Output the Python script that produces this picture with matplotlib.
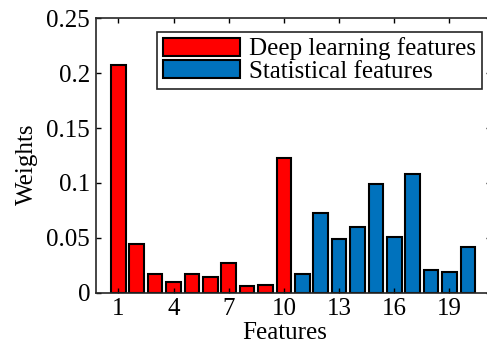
import numpy as np
import matplotlib
matplotlib.use("Agg")
import matplotlib.pyplot as plt

# Feature weights: first 10 are deep-learning features, last 10 statistical
deep_features = [1, 2, 3, 4, 5, 6, 7, 8, 9, 10]
deep_weights = [0.207, 0.044, 0.017, 0.0097, 0.017, 0.014, 0.027, 0.0064, 0.0073, 0.1227]
stat_features = [11, 12, 13, 14, 15, 16, 17, 18, 19, 20]
stat_weights = [0.0167, 0.0724, 0.049, 0.0597, 0.0988, 0.0503, 0.108, 0.0203, 0.0188, 0.0418]
xtick_values = [1, 4, 7, 10, 13, 16, 19]
ytick_values = [0, 0.05, 0.1, 0.15, 0.2, 0.25]
ytick_labels = ["0", "0.05", "0.1", "0.15", "0.2", "0.25"]

plt.rcParams["font.family"] = ["Liberation Serif", "DejaVu Serif"]
FS = 18

W, H = 487, 350
fig = plt.figure(figsize=(W / 100, H / 100), dpi=100)
ax = fig.add_axes([95.7 / W, 1 - 292.7 / H, (490.5 - 95.7) / W, (292.7 - 18.3) / H])

ax.bar(deep_features, deep_weights, width=0.8, color="#FF0000",
       edgecolor="black", linewidth=1.5, label="Deep learning features")
ax.bar(stat_features, stat_weights, width=0.8, color="#0072BD",
       edgecolor="black", linewidth=1.5, label="Statistical features")

ax.set_xlim(-0.23, 21.23)
ax.set_ylim(0, 0.25)
ax.set_xticks(xtick_values)
ax.set_xticklabels([str(v) for v in xtick_values])
ax.set_yticks(ytick_values)
ax.set_yticklabels(ytick_labels)
ax.tick_params(direction="in", length=3.5, width=1.0, top=True, right=True,
               labelsize=FS, colors="black", pad=4)
for s in ax.spines.values():
    s.set_linewidth(1.2)
    s.set_color("#262626")

ax.set_xlabel("Features", fontsize=FS)
ax.set_ylabel("Weights", fontsize=FS)
ax.xaxis.set_label_coords(0.479, -0.107)
ax.yaxis.set_label_coords(-0.145, 0.467)

leg = ax.legend(loc="upper right", bbox_to_anchor=(481.7 / W, 1 - 32 / H),
                bbox_transform=fig.transFigure, borderaxespad=0,
                fontsize=FS, frameon=True, fancybox=False, framealpha=1,
                handlelength=3.1, handleheight=0.72, handletextpad=0.35,
                labelspacing=0.0, borderpad=0.22)
leg.get_frame().set_edgecolor("#262626")
leg.get_frame().set_linewidth(1.2)

fig.savefig("out.png", dpi=100)
